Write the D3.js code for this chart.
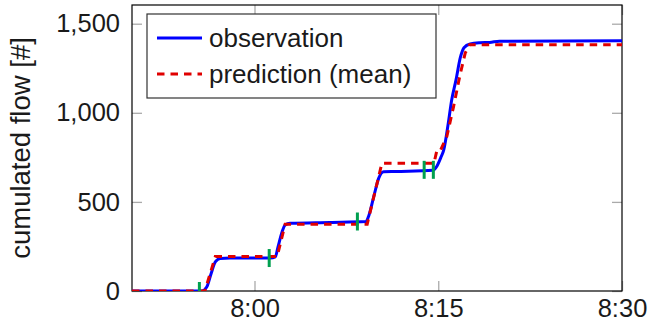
<!DOCTYPE html>
<html>
<head>
<meta charset="utf-8">
<script src="https://cdn.jsdelivr.net/npm/d3@7"></script>
<style>
  body { margin: 0; background: #fff; }
  text { font-family: "Liberation Sans", Arial, sans-serif; }
</style>
</head>
<body>
<div id="main"></div>
<script>
const ctx = {
    w: 650,
    h: 323,
    margin: { top: 5, right: 28, bottom: 32, left: 132 }
};

// time values are minutes past 7:00
const obsTime = [50, 55.7, 56.1, 56.45, 56.8, 57.2, 58, 61.3, 61.7, 61.9, 62.25, 62.5, 62.9, 66.15, 69.1, 69.35, 69.75, 70.15, 70.55, 71.5, 74.55, 74.9, 75.2, 75.45, 75.8, 76.1, 76.45, 76.8, 77.1, 77.6, 78.4, 79.2, 80, 90];
const obsFlow = [0, 0, 22, 96, 163, 183, 185, 185, 191, 242, 331, 371, 380, 385, 390, 427, 534, 635, 669, 671, 677, 702, 747, 792, 933, 1073, 1185, 1309, 1365, 1386, 1393, 1395, 1402, 1405];

const predTime = [50, 55.95, 56.8, 61.85, 62.5, 69.2, 70.4, 74.65, 74.9, 75.2, 75.7, 76.25, 76.75, 77.2, 77.55, 90];
const predFlow = [0, 0, 193, 193, 375, 375, 717, 717, 792, 792, 867, 1035, 1204, 1335, 1382, 1382];

const markTime = [55.5, 61.2, 68.4, 73.85, 74.6];
const markFlow = [0, 185, 390, 680, 680];

const yTicks = [0, 500, 1000, 1500];
const xTicks = [60, 75, 90];
const xRange = [50, 90];
const yMax = 1605;

const seriesNames = ["observation", "prediction (mean)"];

function toDate(m) {
    return new Date(2020, 0, 1, 7, 0, 0, Math.round(m * 60000));
}

function createViz() {
    const m = ctx.margin;
    const iw = ctx.w - m.left - m.right;
    const ih = ctx.h - m.top - m.bottom;

    const svg = d3.select("#main").append("svg")
        .attr("width", ctx.w)
        .attr("height", ctx.h);

    const g = svg.append("g").attr("transform", `translate(${m.left},${m.top})`);

    const x = d3.scaleTime().domain(xRange.map(toDate)).range([0, iw]);
    const y = d3.scaleLinear().domain([0, yMax]).range([ih, 0]);

    svg.append("defs").append("clipPath").attr("id", "plotClip")
        .append("rect").attr("width", iw).attr("height", ih);

    // inward gray ticks on all four sides
    const fmtTime = d3.timeFormat("%-H:%M");
    const xt = xTicks.map(toDate);

    const left = g.append("g")
        .call(d3.axisLeft(y).tickValues(yTicks).tickSize(-10).tickPadding(12)
            .tickFormat(d3.format(",")));
    const right = g.append("g").attr("transform", `translate(${iw},0)`)
        .call(d3.axisRight(y).tickValues(yTicks).tickSize(-10).tickFormat(""));
    const bottom = g.append("g").attr("transform", `translate(0,${ih})`)
        .call(d3.axisBottom(x).tickValues(xt).tickSize(-10).tickPadding(8)
            .tickFormat(fmtTime));
    const top = g.append("g")
        .call(d3.axisTop(x).tickValues(xt).tickSize(-10).tickFormat(""));

    [left, right, bottom, top].forEach(a => {
        a.select(".domain").remove();
        a.selectAll(".tick line").attr("stroke", "#aaa").attr("stroke-width", 1.3);
        a.selectAll(".tick text")
            .attr("font-family", "Liberation Sans, Arial, sans-serif")
            .attr("font-size", 25.5)
            .attr("fill", "#1a1a1a");
    });

    // frame
    g.append("rect")
        .attr("width", iw).attr("height", ih)
        .attr("fill", "none").attr("stroke", "#000").attr("stroke-width", 1.2);

    const plot = g.append("g").attr("clip-path", "url(#plotClip)");

    const obs = obsTime.map((t, i) => ({ t: toDate(t), v: obsFlow[i] }));
    const pred = predTime.map((t, i) => ({ t: toDate(t), v: predFlow[i] }));
    const marks = markTime.map((t, i) => ({ t: toDate(t), v: markFlow[i] }));

    plot.append("path").datum(obs)
        .attr("fill", "none").attr("stroke", "#0000ff").attr("stroke-width", 3)
        .attr("stroke-linejoin", "round")
        .attr("d", d3.line().x(d => x(d.t)).y(d => y(d.v)).curve(d3.curveMonotoneX));

    plot.append("path").datum(pred)
        .attr("fill", "none").attr("stroke", "#e00000").attr("stroke-width", 3)
        .attr("stroke-dasharray", "7.5,6")
        .attr("d", d3.line().x(d => x(d.t)).y(d => y(d.v)));

    plot.selectAll("line.mark").data(marks).enter().append("line")
        .attr("class", "mark")
        .attr("x1", d => x(d.t)).attr("x2", d => x(d.t))
        .attr("y1", d => y(d.v) - 9).attr("y2", d => y(d.v) + 9)
        .attr("stroke", "#00a050").attr("stroke-width", 3);

    // y label
    svg.append("text")
        .attr("transform", "translate(30,148) rotate(-90)")
        .attr("text-anchor", "middle")
        .attr("font-size", 27.5)
        .attr("fill", "#1a1a1a")
        .text("cumulated flow [#]");

    // legend
    const lg = svg.append("g").attr("transform", "translate(147,14)");
    lg.append("rect")
        .attr("width", 289).attr("height", 84)
        .attr("fill", "#fff").attr("stroke", "#333").attr("stroke-width", 1.2);

    const items = lg.selectAll("g.item").data(seriesNames).enter().append("g")
        .attr("class", "item")
        .attr("transform", (d, i) => `translate(0,${24 + i * 36})`);

    items.append("line")
        .attr("x1", 10).attr("x2", 55)
        .attr("stroke", (d, i) => i === 0 ? "#0000ff" : "#e00000")
        .attr("stroke-width", 3)
        .attr("stroke-dasharray", (d, i) => i === 0 ? null : "7.5,6");

    items.append("text")
        .attr("x", 62).attr("y", 9)
        .attr("font-size", 26)
        .attr("fill", "#1a1a1a")
        .text(d => d);
}

createViz();
</script>
</body>
</html>
